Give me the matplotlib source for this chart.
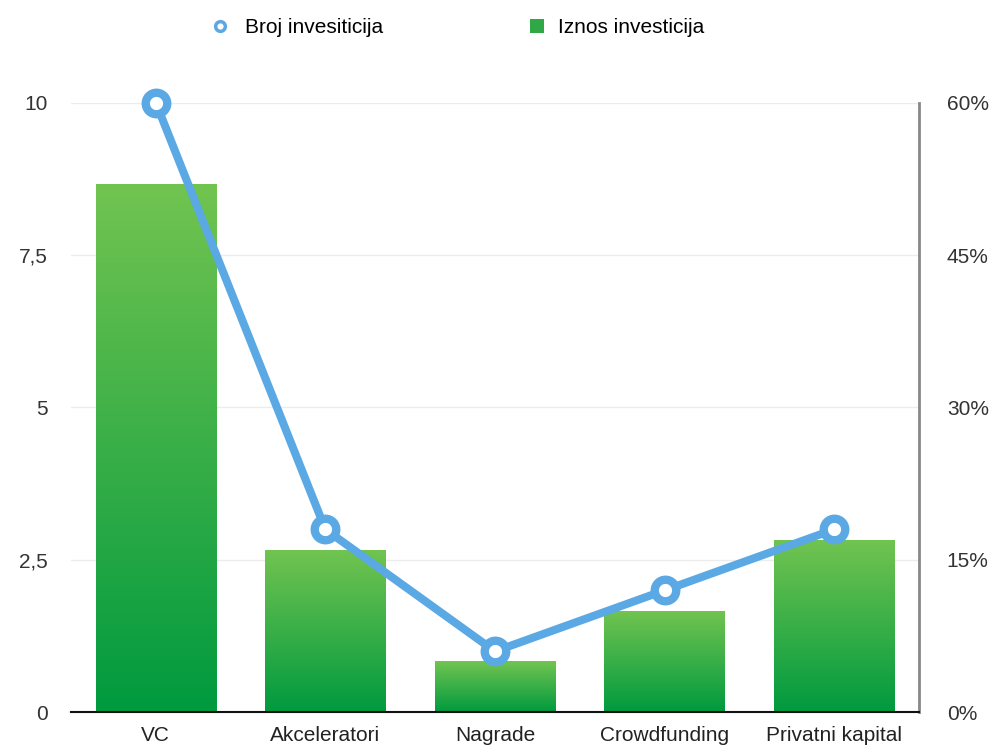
import numpy as np
import matplotlib
matplotlib.use('Agg')
import matplotlib.pyplot as plt
from matplotlib.lines import Line2D
from matplotlib.patches import Patch
from matplotlib.colors import LinearSegmentedColormap
from matplotlib.ticker import FuncFormatter

plt.rcParams['font.family'] = ['Liberation Sans', 'DejaVu Sans']

categories = ['VC', 'Akceleratori', 'Nagrade', 'Crowdfunding', 'Privatni kapital']
broj = [10, 3, 1, 2, 3]            # left axis, line
iznos = [52, 16, 5, 10, 17]         # right axis, percent, bars
left_ticks = [0, 2.5, 5, 7.5, 10]
right_ticks = [0, 15, 30, 45, 60]

blue = '#5aa8e4'
green_top = '#72c450'
green_bot = '#009a3f'
fs = 15

fig = plt.figure(figsize=(10, 7.49), dpi=100)
ax = fig.add_axes([0.071, 0.049, 0.848, 0.814])
ax2 = ax.twinx()

x = np.arange(len(categories))

# bars with vertical gradient on the right axis
cmap = LinearSegmentedColormap.from_list('g', [green_bot, green_top])
grad = np.linspace(0, 1, 256).reshape(-1, 1)
bars = ax2.bar(x, iznos, width=0.71, color='none', zorder=2)
for b in bars:
    x0, w, h = b.get_x(), b.get_width(), b.get_height()
    im = ax2.imshow(grad, cmap=cmap, origin='lower', aspect='auto',
                    extent=[x0, x0 + w, 0, h], zorder=2)
    im.set_clip_path(b)

ax2.set_ylim(0, 60)
ax2.set_yticks(right_ticks)
ax2.yaxis.set_major_formatter(FuncFormatter(lambda v, p: '%d%%' % v))
ax2.grid(axis='y', color='#ececec', linewidth=1, zorder=0)
ax2.set_axisbelow(True)
ax2.tick_params(axis='y', length=0, pad=20, labelsize=fs, labelcolor='#333333')

# line on the left axis, drawn on top
ax.set_zorder(ax2.get_zorder() + 1)
ax.patch.set_visible(False)
ax.plot(x, broj, color=blue, linewidth=5.8, marker='o', markersize=15.5,
        markerfacecolor='white', markeredgecolor=blue, markeredgewidth=6,
        zorder=5, clip_on=False)
ax.set_ylim(0, 10)
ax.set_xlim(-0.5, len(categories) - 0.5)
ax.set_yticks(left_ticks)
ax.set_yticklabels([('%g' % t).replace('.', ',') for t in left_ticks])
ax.set_xticks(x)
ax.set_xticklabels(categories)
ax.tick_params(axis='y', length=0, pad=16.5, labelsize=fs, labelcolor='#333333')
ax.tick_params(axis='x', length=0, pad=10, labelsize=fs, labelcolor='#222222')

for a in (ax, ax2):
    for side in ('top', 'left', 'right', 'bottom'):
        a.spines[side].set_visible(False)
ax.spines['bottom'].set_visible(True)
ax.spines['bottom'].set_color('#111111')
ax.spines['bottom'].set_linewidth(1.5)
ax2.spines['right'].set_visible(True)
ax2.spines['right'].set_color('#888888')
ax2.spines['right'].set_linewidth(2)

h1 = Line2D([], [], color=blue, marker='o', linestyle='none', markersize=7,
            markerfacecolor='white', markeredgewidth=2.5)
h2 = Patch(facecolor='#2fa845')
leg_kw = dict(loc='center left', frameon=False, fontsize=fs, borderpad=0,
              borderaxespad=0, handlelength=0.7, handleheight=0.7)
fig.legend([h1], ['Broj invesiticija'], bbox_to_anchor=(0.2125, 0.963),
           handletextpad=0.85, **leg_kw)
fig.legend([h2], ['Iznos investicija'], bbox_to_anchor=(0.5295, 0.963),
           handletextpad=0.65, **leg_kw)

fig.savefig('out.png', dpi=100)
